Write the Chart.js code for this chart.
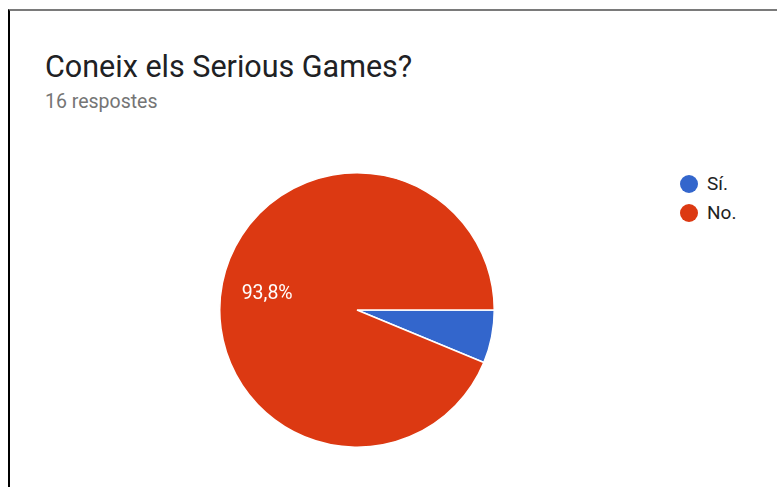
<!DOCTYPE html>
<html>
<head>
<meta charset="utf-8">
<script src="https://cdn.jsdelivr.net/npm/chart.js@4"></script>
<style>
  body { margin: 0; background: #fff; font-family: Roboto, Arial, sans-serif; }
  #frame { position: absolute; left: 8px; top: 9px; width: 769px; height: 478px;
           border-top: 2px solid #7a7a7a; border-left: 2px solid #000; }
  #title { position: absolute; left: 45px; top: 49px; font-size: 30.5px; line-height: 1.171; color: #202124; white-space: nowrap; }
  #sub { position: absolute; left: 45px; top: 91px; font-size: 19.5px; line-height: 1.171; color: #757575; }
  #wrap { position: absolute; left: 219px; top: 172px; width: 276px; height: 276px; }
  #legend { position: absolute; left: 680px; top: 169px; font-size: 19px; color: #222; }
  .item { height: 29px; display: flex; align-items: center; }
  .dot { width: 18px; height: 18px; border-radius: 50%; margin-right: 9px; }
</style>
</head>
<body>
<div id="frame"></div>
<div id="title">Coneix els Serious Games?</div>
<div id="sub">16 respostes</div>
<div id="wrap"><canvas id="pie"></canvas></div>
<div id="legend"></div>
<script>
const labels = ['Sí.', 'No.'];
const counts = [1, 15];
const colors = ['#3366cc', '#dc3912'];

// llegenda
const legend = document.getElementById('legend');
labels.forEach((l, i) => {
    legend.innerHTML += `<div class="item"><span class="dot" style="background:${colors[i]}"></span>${l}</div>`;
});

// etiquetes de percentatge dins les porcions (només si són prou grans)
const pctLabels = {
    id: 'pctLabels',
    afterDatasetsDraw(chart) {
        const ctx = chart.ctx;
        const total = counts.reduce((a, b) => a + b, 0);
        chart.getDatasetMeta(0).data.forEach((arc, i) => {
            const pct = counts[i] / total * 100;
            if (pct < 10) return;
            const mid = (arc.startAngle + arc.endAngle) / 2;
            const r = arc.outerRadius * 0.66;
            const x = arc.x + Math.cos(mid) * r;
            const y = arc.y + Math.sin(mid) * r;
            ctx.save();
            ctx.fillStyle = '#fff';
            ctx.font = '19.5px Roboto, Arial, sans-serif';
            ctx.textAlign = 'center';
            ctx.textBaseline = 'middle';
            ctx.fillText(pct.toFixed(1).replace('.', ',') + '%', x - 1, y + 1.5);
            ctx.restore();
        });
    }
};

new Chart(document.getElementById('pie'), {
    type: 'pie',
    data: {
        labels: labels,
        datasets: [{ data: counts, backgroundColor: colors, borderColor: '#fff', borderWidth: 1.5 }]
    },
    options: {
        responsive: true,
        maintainAspectRatio: false,
        animation: false,
        rotation: 90,
        layout: { padding: 0 },
        plugins: { legend: { display: false }, tooltip: { enabled: false } }
    },
    plugins: [pctLabels]
});
</script>
</body>
</html>
